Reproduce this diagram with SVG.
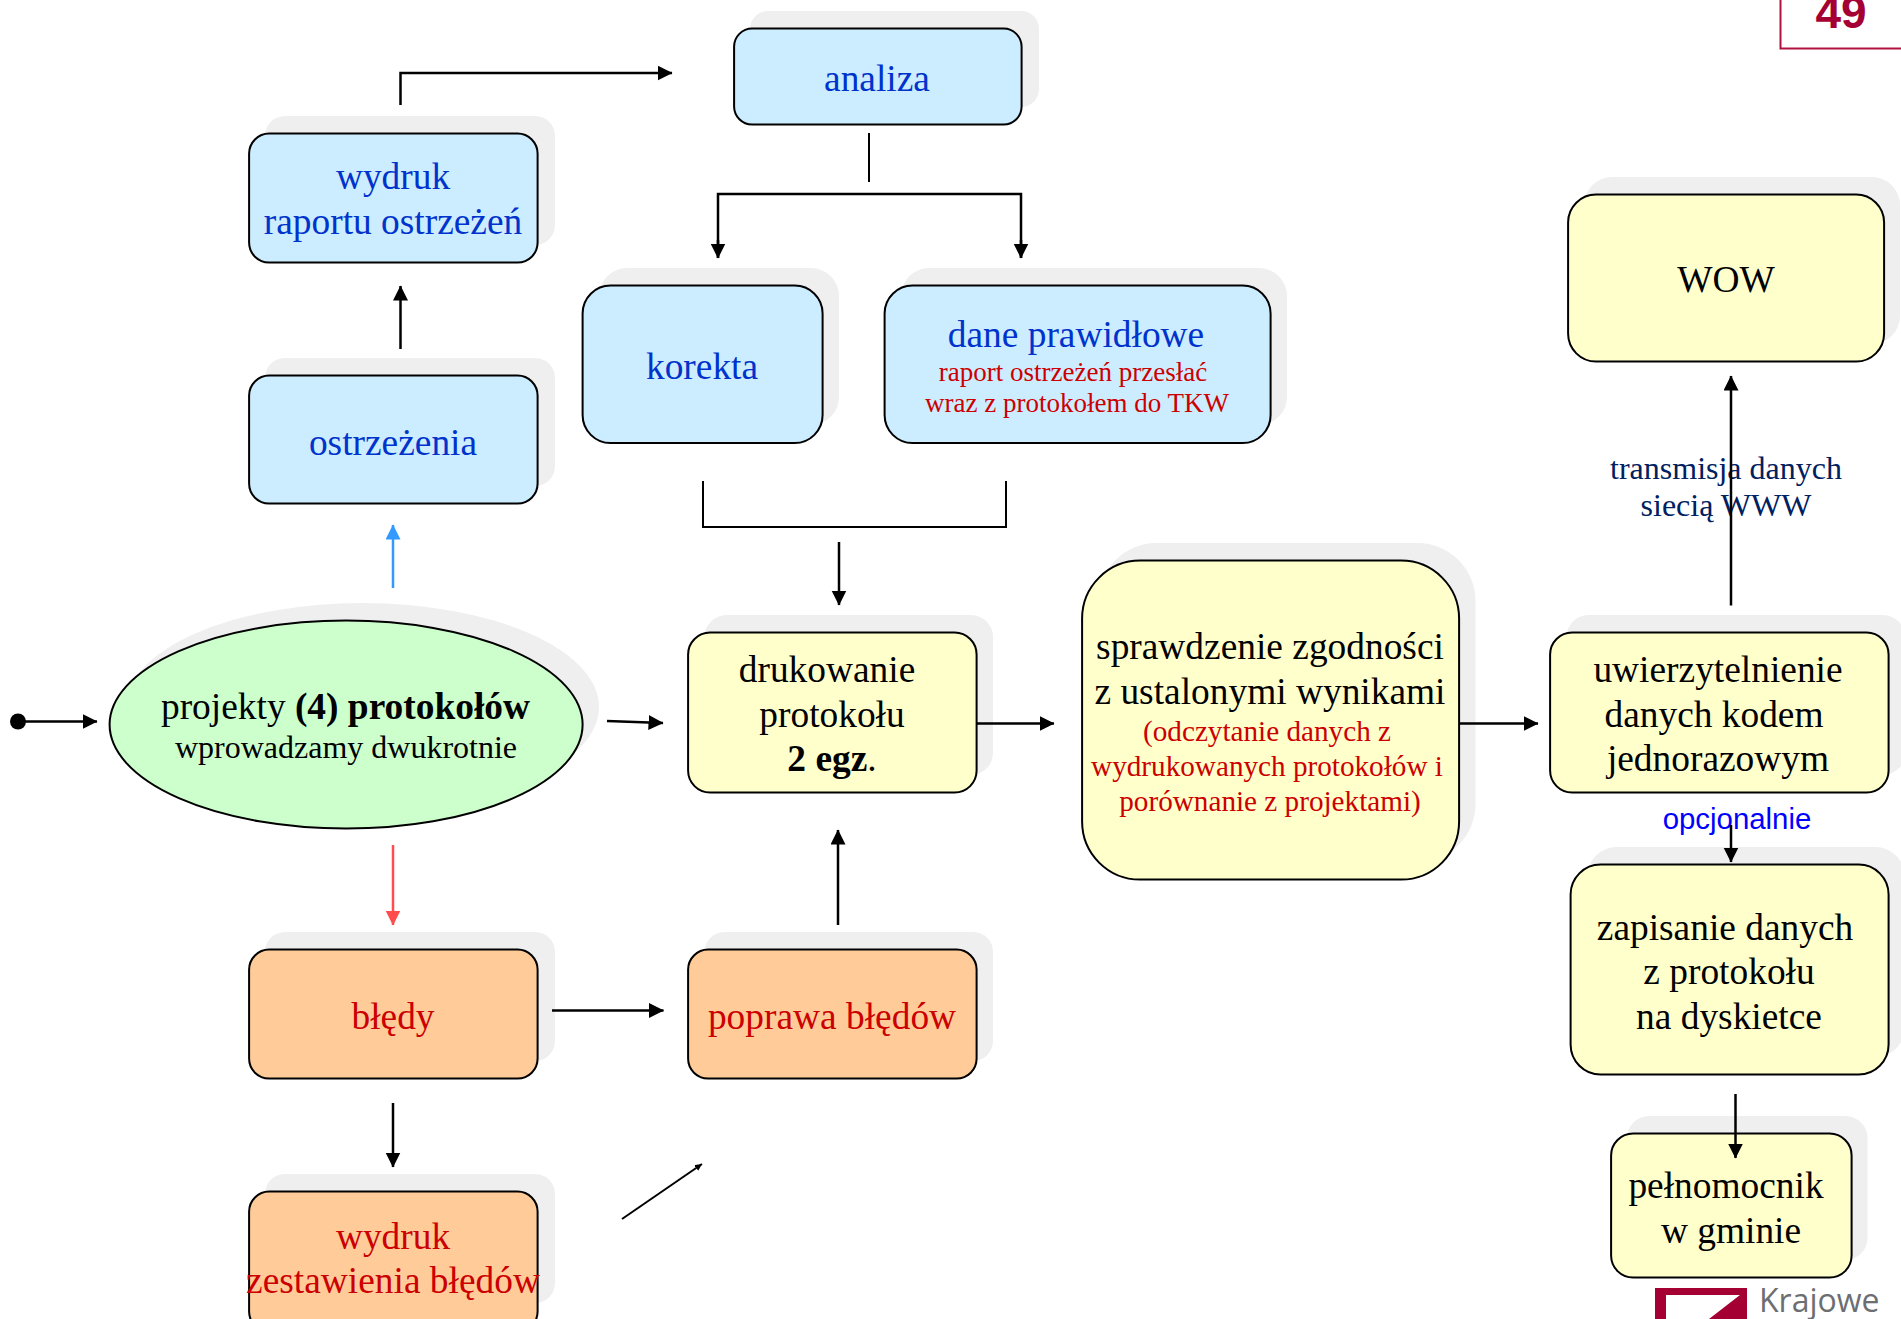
<svg xmlns="http://www.w3.org/2000/svg" width="1901" height="1319" viewBox="0 0 1901 1319">
<style>
text{font-family:"Liberation Serif","Times New Roman",serif;text-anchor:middle;font-size:37.4px;fill:#000}
.b{fill:#0033CC}.r{fill:#CC0000}.s{font-size:27px}.q{font-size:29.2px}.m{font-size:32px}
.box{stroke:#000;stroke-width:2;transform:translate(.6px,.6px)}.sh{fill:#EFEFEF}
.by{fill:#CCECFF}.yy{fill:#FFFFCC}.oy{fill:#FFCC99}
.c{fill:none;stroke:#000;stroke-width:2.5}
.t{fill:none;stroke:#000;stroke-width:2}
</style>
<defs>
<marker id="a" markerUnits="userSpaceOnUse" markerWidth="16" markerHeight="16" refX="14.5" refY="7.5" orient="auto"><path d="M0,0L15,7.5L0,15z" fill="#000"/></marker>
<marker id="ab" markerUnits="userSpaceOnUse" markerWidth="16" markerHeight="16" refX="14.5" refY="7.5" orient="auto"><path d="M0,0L15,7.5L0,15z" fill="#3399FF"/></marker>
<marker id="ar" markerUnits="userSpaceOnUse" markerWidth="16" markerHeight="16" refX="14.5" refY="7.5" orient="auto"><path d="M0,0L15,7.5L0,15z" fill="#FF4D4D"/></marker>
<marker id="as" markerUnits="userSpaceOnUse" markerWidth="8" markerHeight="8" refX="7" refY="3.5" orient="auto"><path d="M0,0L7,3.5L0,7z" fill="#000"/></marker>
</defs>
<g id="page-number"><rect x="1780.5" y="-10" width="125" height="58.5" fill="#fff" stroke="#B0123F" stroke-width="2"/><text x="1841" y="27.5" style="font-family:'Liberation Sans',Arial,sans-serif;font-weight:bold;font-size:46px;fill:#A50034">49</text></g>
<g id="logo"><path d="M1655,1288H1747V1319H1655z" fill="#A50034"/><path d="M1666,1295H1740L1709,1319H1666z" fill="#fff"/><text x="1759" y="1312" style="text-anchor:start;font-family:'Open Sans',sans-serif;font-size:32px;fill:#6D6E71">Krajowe</text></g>
<g id="analiza"><rect class="sh" x="750" y="11" width="289" height="96" rx="18"/><rect class="box by" x="733.5" y="28" width="287.5" height="96" rx="18"/><text class="b" x="877" y="91">analiza</text></g>
<g id="wydruk-raportu"><rect class="sh" x="265" y="116" width="290" height="129" rx="20"/><rect class="box by" x="248.5" y="133" width="288.5" height="129" rx="20"/><text class="b" x="393" y="189">wydruk</text><text class="b" x="393" y="234">raportu ostrzeżeń</text></g>
<g id="ostrzezenia"><rect class="sh" x="265" y="358" width="290" height="128" rx="20"/><rect class="box by" x="248.5" y="375" width="288.5" height="128" rx="20"/><text class="b" x="393" y="455">ostrzeżenia</text></g>
<g id="korekta"><rect class="sh" x="599" y="268" width="240" height="157" rx="28"/><rect class="box by" x="582" y="285" width="240" height="157.5" rx="28"/><text class="b" x="702" y="378.5">korekta</text></g>
<g id="dane-prawidlowe"><rect class="sh" x="901" y="268" width="386" height="157" rx="28"/><rect class="box by" x="884" y="285" width="386" height="157.5" rx="28"/><text class="b" x="1076" y="346.5">dane prawidłowe</text><text class="r s" x="1073" y="380.5">raport ostrzeżeń przesłać</text><text class="r s" x="1077" y="412">wraz z protokołem do TKW</text></g>
<g id="projekty"><ellipse class="sh" cx="362.5" cy="707" rx="236.5" ry="104"/><ellipse class="box" fill="#CCFFCC" cx="345.5" cy="724" rx="236.5" ry="104"/><text x="345.5" y="718.5">projekty <tspan font-weight="bold">(4) protokołów</tspan></text><text class="m" x="346" y="758">wprowadzamy dwukrotnie</text></g>
<g id="drukowanie"><rect class="sh" x="704.5" y="615" width="288.5" height="160" rx="22"/><rect class="box yy" x="687.5" y="632" width="288.5" height="160" rx="22"/><text x="827" y="681.5">drukowanie</text><text x="832" y="726.5">protokołu</text><text x="832" y="771"><tspan font-weight="bold">2 egz</tspan>.</text></g>
<g id="sprawdzenie"><rect class="sh" x="1098.5" y="543" width="377" height="319" rx="58"/><rect class="box yy" x="1081.5" y="560" width="377" height="319" rx="58"/><text x="1270" y="658.5">sprawdzenie zgodności</text><text x="1270" y="703.5">z ustalonymi wynikami</text><text class="r q" x="1267" y="740.5">(odczytanie danych z</text><text class="r q" x="1267" y="776">wydrukowanych protokołów i</text><text class="r q" x="1270" y="811">porównanie z projektami)</text></g>
<g id="uwierzytelnienie"><rect class="sh" x="1566.5" y="615" width="338.5" height="160" rx="22"/><rect class="box yy" x="1549.5" y="632" width="338.5" height="160" rx="22"/><text x="1718" y="681.5">uwierzytelnienie</text><text x="1714" y="726.5">danych kodem</text><text x="1718" y="771">jednorazowym</text></g>
<g id="zapisanie"><rect class="sh" x="1587" y="847" width="318" height="210" rx="30"/><rect class="box yy" x="1570" y="864" width="318" height="210" rx="30"/><text x="1725" y="940">zapisanie danych</text><text x="1729" y="984">z protokołu</text><text x="1729" y="1028.5">na dyskietce</text></g>
<g id="pelnomocnik"><rect class="sh" x="1627" y="1116" width="240.5" height="144" rx="22"/><rect class="box yy" x="1610.5" y="1133" width="240.5" height="144" rx="22"/><text x="1726" y="1197.5">pełnomocnik</text><text x="1731" y="1242.5">w gminie</text></g>
<g id="wow"><rect class="sh" x="1584" y="177" width="316" height="167" rx="28"/><rect class="box yy" x="1567.5" y="194" width="316" height="167" rx="28"/><text x="1726" y="292">WOW</text></g>
<g id="bledy"><rect class="sh" x="265" y="932" width="290" height="129" rx="20"/><rect class="box oy" x="248.5" y="949" width="288.5" height="129" rx="20"/><text class="r" x="393" y="1028.5">błędy</text></g>
<g id="poprawa"><rect class="sh" x="704.5" y="932" width="288.5" height="129" rx="20"/><rect class="box oy" x="687.5" y="949" width="288.5" height="129" rx="20"/><text class="r" x="832" y="1028.5">poprawa błędów</text></g>
<g id="wydruk-zestawienia"><rect class="sh" x="265" y="1174" width="290" height="129" rx="20"/><rect class="box oy" x="248.5" y="1191" width="288.5" height="140" rx="20"/><text class="r" x="393" y="1249">wydruk</text><text class="r" x="393" y="1293">zestawienia błędów</text></g>
<g id="labels"><text class="m" x="1726" y="479" style="fill:#002060">transmisja danych</text><text class="m" x="1726" y="516" style="fill:#002060">siecią WWW</text><text x="1737" y="829" style="font-family:'Liberation Sans',Arial,sans-serif;font-size:29.4px;fill:#0000FF">opcjonalnie</text></g>
<g id="connectors">
<circle cx="18" cy="721.5" r="8" fill="#000"/>
<path class="c" d="M18,721.5H97" marker-end="url(#a)"/>
<path class="c" d="M607,721L663,723" marker-end="url(#a)"/>
<path d="M393,588V525" fill="none" stroke="#3399FF" stroke-width="2.5" marker-end="url(#ab)"/>
<path d="M393,845V925" fill="none" stroke="#FF4D4D" stroke-width="2.5" marker-end="url(#ar)"/>
<path class="c" d="M400.5,349V286" marker-end="url(#a)"/>
<path class="c" d="M400.5,105V73H672" marker-end="url(#a)"/>
<path class="t" d="M869,133V182"/>
<path class="c" d="M718,258V194H1021V258"/>
<path d="M718,240V258" class="c" marker-end="url(#a)"/>
<path d="M1021,240V258" class="c" marker-end="url(#a)"/>
<path class="t" d="M703,481V527H1006V481"/>
<path class="c" d="M839,542V605" marker-end="url(#a)"/>
<path class="c" d="M976,723.5H1054" marker-end="url(#a)"/>
<path class="c" d="M1459,723.5H1538" marker-end="url(#a)"/>
<path class="c" d="M1731,605.5V376" marker-end="url(#a)"/>
<path class="c" d="M1731,825V862" marker-end="url(#a)"/>
<path class="c" d="M1735.5,1094V1158" marker-end="url(#a)"/>
<path class="c" d="M393,1103V1167" marker-end="url(#a)"/>
<path class="c" d="M552,1010.5H663.5" marker-end="url(#a)"/>
<path class="c" d="M838,925V830" marker-end="url(#a)"/>
<path class="t" d="M622,1219L702,1164" marker-end="url(#as)"/>
</g>
</svg>
